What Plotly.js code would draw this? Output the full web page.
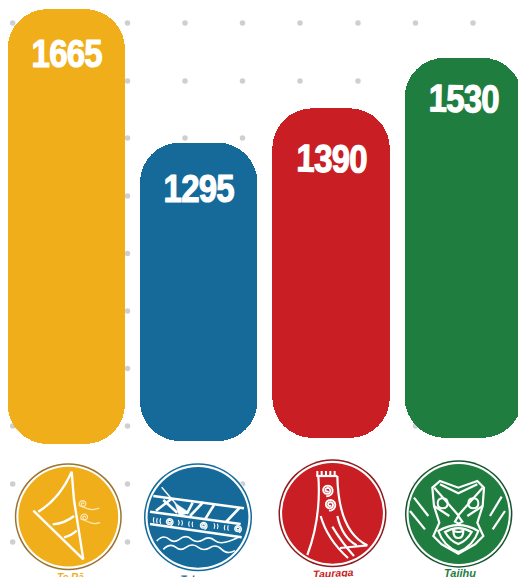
<!DOCTYPE html>
<html>
<head>
<meta charset="utf-8">
<script src="https://cdn.plot.ly/plotly-3.0.1.min.js"></script>
<style>
html,body{margin:0;padding:0;background:#fff;overflow:hidden}
.annotation[data-index="0"] text,.annotation[data-index="1"] text,.annotation[data-index="2"] text,.annotation[data-index="3"] text{
  letter-spacing:-0.8px;stroke:#fff;stroke-width:1px;stroke-linejoin:round;paint-order:stroke;
  transform-box:fill-box;transform-origin:center;transform:scaleY(1.17);}
</style>
</head>
<body>
<div id="chart" style="width:518px;height:577px"></div>
<script>
// ---- chart data ----
var houses = ['Te Rā', 'Tahuna', 'Tauraga', 'Taiihu'];
var values = [1665, 1295, 1390, 1530];
var barFloors = [460, 468, 477, 477];
var barColors = ['#F0AE1A', '#156A9A', '#C81E24', '#1F7D3F'];
var labelDrops = [122, 127, 139, 114];
var labelAngles = [0, 0, 1, 1];

// ---- background dot lattice ----
var dotColumns = [12.7, 70, 127.5, 185, 242.5, 300, 358, 415.5, 473];
var dotRows = [23, 81, 138, 196, 253.5, 311, 368.5, 426, 484, 542];

var dotX = [], dotY = [];
dotRows.forEach(function (r) { dotColumns.forEach(function (c) { dotX.push(c); dotY.push(r); }); });

var traces = [
  { type: 'scatter', mode: 'markers', x: dotX, y: dotY, xaxis: 'x', yaxis: 'y', hoverinfo: 'skip',
    marker: { size: 5.5, color: '#CFCFD1' } },
  { type: 'bar', x: houses, base: barFloors,
    y: values.map(function (v, i) { return v - barFloors[i]; }), xaxis: 'x2', yaxis: 'y2', width: 0.8875,
    marker: { color: barColors, cornerradius: 40, line: { width: 0 } } }
];

// ---- emblem drawings (decorative) ----
function tf(path, ox, oy) {
  return path.replace(/(-?\d+(?:\.\d+)?),(-?\d+(?:\.\d+)?)/g, function (m, a, b) {
    return (ox + a / 3).toFixed(2) + ',' + (oy + b / 3).toFixed(2);
  });
}
function circle(cx, cy, r, fill) {
  return { type: 'circle', xref: 'x', yref: 'y', x0: cx - r, x1: cx + r, y0: cy - r, y1: cy + r,
           fillcolor: fill, line: { width: 0 }, layer: 'above' };
}
function stroke(d, ox, oy, w, color, fill) {
  return { type: 'path', xref: 'x', yref: 'y', path: tf(d, ox, oy),
           line: { width: w, color: color || '#fff' }, fillcolor: fill || 'rgba(0,0,0,0)', layer: 'above' };
}
function spiral(cx, cy, r, turns, startA, dir) {
  var s = 'M', n = Math.round(turns * 14);
  for (var i = 0; i <= n; i++) {
    var t = i / n, a = startA + dir * t * turns * 2 * Math.PI, q = r * (0.15 + 0.85 * t);
    s += (i ? ' L' : '') + (cx + q * Math.cos(a)).toFixed(1) + ',' + (cy + q * Math.sin(a)).toFixed(1);
  }
  return s;
}
function badge(cx, cy, R, ringColor, main) {
  return [ circle(cx, cy, R + 1, '#FDFDFD'), circle(cx, cy, R, ringColor), circle(cx, cy, R - 1.5, '#fff'), circle(cx, cy, R - 3.6, main) ];
}

var shapes = [];
function add(list) { shapes = shapes.concat(list); }

// Te Rā
var o1 = [10, 460];
add(badge(68.3, 516.7, 53.5, '#9A7530', '#F0AE1A'));
['M185,35 L192,120 L220,298', 'M70,152 L220,298', 'M85,155 Q150,115 185,35',
 'M128,193 Q165,190 192,168', 'M162,232 Q182,228 200,212'].forEach(function (d) {
  shapes.push(stroke(d, o1[0], o1[1], 2.4));
});
[spiral(219, 132, 12, 1.6, 0.2, -1) + ' L232,146 Q250,152 268,144',
 spiral(224, 172, 12, 1.6, 0.2, -1) + ' L236,186 Q252,194 270,188'].forEach(function (d) {
  shapes.push(stroke(d, o1[0], o1[1], 1.2, '#FBE8B8'));
});

// Blue emblem
var o2 = [140, 460];
add(badge(198, 517.3, 54, '#156A9A', '#156A9A'));
['M40,108 L312,145', 'M30,155 L302,192', 'M30,192 L305,232'].forEach(function (d) {
  shapes.push(stroke(d, o2[0], o2[1], 2.6));
});
['M48,152 L95,116', 'M70,120 L112,158', 'M150,168 L190,126', 'M195,178 L222,135',
 'M258,186 L298,144', 'M140,162 L158,128'].forEach(function (d) {
  shapes.push(stroke(d, o2[0], o2[1], 2.6));
});
shapes.push(stroke('M65,82 L108,132', o2[0], o2[1], 1.4));
shapes.push(stroke('M104,128 L118,168 L148,158 Z', o2[0], o2[1], 0.5, '#fff', '#fff'));
[[88, 186], [190, 197], [293, 207]].forEach(function (c) {
  shapes.push(stroke(spiral(c[0], c[1], 12, 2.2, 0, 1), o2[0], o2[1], 1.3));
});
['M42,172 Q38,180 42,188', 'M52,174 Q48,182 52,190', 'M62,175 Q58,183 62,191',
 'M115,180 Q120,188 115,196', 'M125,181 Q130,189 125,197',
 'M148,184 Q144,192 148,200', 'M158,185 Q154,193 158,201',
 'M222,190 Q227,198 222,206', 'M232,191 Q237,199 232,207',
 'M255,195 Q251,203 255,211', 'M265,196 Q261,204 265,212'].forEach(function (d) {
  shapes.push(stroke(d, o2[0], o2[1], 1.1));
});
['M50,243 Q70,222 88,238 Q102,250 118,238 Q138,222 155,238 Q170,250 188,240 Q208,226 225,242 Q245,258 295,232',
 'M70,268 Q90,248 108,262 Q122,274 138,262 Q158,248 175,262 Q190,274 208,264 Q228,250 245,268 Q262,285 285,272'].forEach(function (d) {
  shapes.push(stroke(d, o2[0], o2[1], 1.6));
});

// Tauranga
var o3 = [274, 456];
add(badge(332.5, 513.3, 54, '#8E1A1E', '#C81E24'));
['M127,60 L190,60', 'M133,60 Q142,185 100,297', 'M190,60 C192,170 222,240 280,268',
 'M140,180 Q160,250 222,306', 'M190,180 Q205,245 248,268', 'M198,276 L280,268', 'M175,212 Q205,262 240,300'].forEach(function (d) {
  shapes.push(stroke(d, o3[0], o3[1], 2.2));
});
[130, 143, 156, 169, 182].forEach(function (x) {
  shapes.push(stroke('M' + x + ',45 L' + x + ',60', o3[0], o3[1], 2));
});
shapes.push(stroke(spiral(160, 103, 18, 2.2, 0.5, 1), o3[0], o3[1], 1.8));
shapes.push(stroke(spiral(168, 146, 18, 2.2, 0.5, 1), o3[0], o3[1], 1.8));

// Taiihu
var o4 = [400, 456];
add(badge(458.7, 514, 53.7, '#14532C', '#1F7D3F'));
['M97,95 L120,75 L175,95 L232,75 L252,95 L248,150 L232,200 L250,240 L225,265 L175,293 L125,265 L100,240 L118,200 L102,150 Z',
 'M103,95 L175,178 L248,95', 'M120,85 L175,112 L232,85',
 'M165,197 L175,180 L187,197 L176,203 Z',
 'M115,225 Q175,190 235,225 Q220,270 175,288 Q130,270 115,225 Z',
 'M135,228 Q175,205 215,228 Q200,255 175,264 Q150,255 135,228 Z',
 'M160,224 Q160,246 175,246 Q190,246 190,224 Q175,232 160,224 Z',
 'M102,150 L148,180', 'M248,150 L202,180',
 'M42,125 L85,180', 'M30,165 L75,220', 'M305,122 L270,180', 'M315,165 L278,220'].forEach(function (d) {
  shapes.push(stroke(d, o4[0], o4[1], 2.2));
});
[[128, 142], [220, 142]].forEach(function (e) {
  var r = 15, x = e[0], y = e[1];
  shapes.push(stroke('M' + (x - r) + ',' + y + ' Q' + (x - r) + ',' + (y - r) + ' ' + x + ',' + (y - r) +
    ' Q' + (x + r) + ',' + (y - r) + ' ' + (x + r) + ',' + y + ' Q' + (x + r) + ',' + (y + r) + ' ' + x + ',' + (y + r) +
    ' Q' + (x - r) + ',' + (y + r) + ' ' + (x - r) + ',' + y + ' Z', o4[0], o4[1], 2));
});

// ---- text ----
var annotations = values.map(function (v, i) {
  return { xref: 'x2', yref: 'y2', x: houses[i], y: v - labelDrops[i], text: String(v), showarrow: false,
           textangle: labelAngles[i], xanchor: 'center', yanchor: 'middle',
           font: { family: '"Liberation Sans", sans-serif', size: 33, weight: 700, color: '#fff' } };
});
var nameY = [576, 576, 573, 573];
var nameShift = [-1.5, -3.5, 0, 0];
var nameX = [70, 198, 333, 460];
var nameAngle = [0, 2, -3, 0];
var nameSizes = [10, 10, 10.5, 11];
var nameColors = ['#F0AE1A', '#156A9A', '#C81E24', '#1F7D3F'];
houses.forEach(function (h, i) {
  annotations.push({ xref: 'x', yref: 'y', x: nameX[i], y: nameY[i], yshift: nameShift[i], text: '<b><i>' + h + '</i></b>', showarrow: false,
    textangle: nameAngle[i], xanchor: 'center', yanchor: 'middle',
    font: { family: '"Liberation Sans", sans-serif', size: nameSizes[i], color: nameColors[i] } });
});

var layout = {
  width: 518, height: 577, margin: { l: 0, r: 0, t: 0, b: 0 }, showlegend: false,
  paper_bgcolor: '#fff', plot_bgcolor: 'rgba(0,0,0,0)', barmode: 'overlay', bargap: 0,
  xaxis: { range: [0, 518], visible: false, fixedrange: true },
  yaxis: { range: [577, 0], visible: false, fixedrange: true },
  xaxis2: { type: 'category', categoryorder: 'array', categoryarray: houses, range: [-0.5008, 3.412],
            overlaying: 'x', visible: false, fixedrange: true },
  yaxis2: { range: [91.6, 1690], overlaying: 'y', visible: false, fixedrange: true },
  shapes: shapes, annotations: annotations
};
Plotly.newPlot('chart', traces, layout, { displayModeBar: false, staticPlot: true });
</script>
</body>
</html>
